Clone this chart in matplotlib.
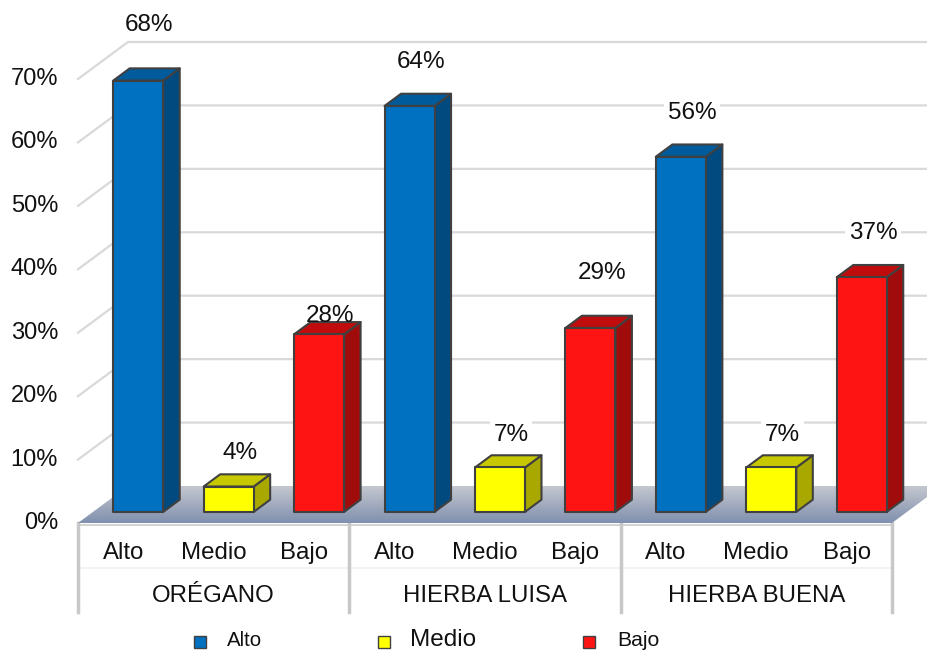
import numpy as np
import matplotlib.pyplot as plt
from matplotlib.patches import Polygon, Rectangle
from matplotlib.colors import LinearSegmentedColormap

plt.rcParams['font.family'] = ['Liberation Sans', 'DejaVu Sans']

# datos
grupos = ['ORÉGANO', 'HIERBA LUISA', 'HIERBA BUENA']
niveles = ['Alto', 'Medio', 'Bajo']
alto = [68, 64, 56]
medio = [4, 7, 7]
bajo = [28, 29, 37]
yticks = [0, 10, 20, 30, 40, 50, 60, 70]

# colores de cada cara (frente, lado, tapa)
caras = {
    'Alto': ('#0070c0', '#004a80', '#005b9c'),
    'Medio': ('#ffff00', '#a8a800', '#c8c800'),
    'Bajo': ('#ff1414', '#a00c0c', '#c00c0c'),
}
# ajuste vertical de las etiquetas de valor, por barra
ajuste_etq = [10.5, 7.0, 4.6, 8.7, 6.9, 10.4, 8.6, 6.9, 8.7]

# geometria en pixeles de la figura
W, H = 928, 652
x0px, slot_px = 78, 90.44
y0px, pct_px = 523, 6.343
dx, dy = 50 / slot_px, 37 / pct_px     # profundidad total
z0, dz = 0.30, 0.33                      # posicion y fondo de las barras
ancho = 50 / slot_px
fs = 17.3

fig = plt.figure(figsize=(W / 100, H / 100), dpi=100)
ax = fig.add_axes([0, 0, 1, 1])
ax.axis('off')
xlim = (-x0px / slot_px, (W - x0px) / slot_px)
ylim = ((y0px - H) / pct_px, y0px / pct_px)
xmax = xlim[1]

# paredes: lineas de cuadricula lateral y de fondo
for v in yticks[1:]:
    ax.plot([0, dx, xmax], [v, v + dy, v + dy], color='#d9d9d9', lw=1.6, zorder=1)
for v in yticks:
    ax.text(-0.22, v, f'{v}%', ha='right', va='center', fontsize=17, color='#111111')

# piso con degradado
n = len(grupos) * len(niveles)
piso = Polygon([(0, 0), (n, 0), (n + dx, dy), (dx, dy)], closed=True,
               facecolor='none', edgecolor='none')
ax.add_patch(piso)
grad = np.linspace(0, 1, 64).reshape(-1, 1)
cmap = LinearSegmentedColormap.from_list('piso', ['#8090ae', '#c4c7cf'])
img = ax.imshow(grad, extent=(0, n + dx, 0, dy), origin='lower', cmap=cmap,
                aspect='auto', zorder=1.5)
img.set_clip_path(piso)
ax.set_xlim(*xlim)
ax.set_ylim(*ylim)

# barras 3D
valores = []
for g in range(len(grupos)):
    valores += [alto[g], medio[g], bajo[g]]
ddx, ddy = dz * dx, dz * dy
for i, v in enumerate(valores):
    nivel = niveles[i % 3]
    cf, cl, ct = caras[nivel]
    xl = i + 0.5 - ancho / 2 + z0 * dx
    xr = xl + ancho
    yb = z0 * dy
    yt = v + z0 * dy
    kw = dict(closed=True, edgecolor='#404040', lw=1.5, zorder=3, joinstyle='round')
    ax.add_patch(Polygon([(xr, yb), (xr + ddx, yb + ddy), (xr + ddx, yt + ddy), (xr, yt)],
                         facecolor=cl, **kw))
    ax.add_patch(Polygon([(xl, yt), (xr, yt), (xr + ddx, yt + ddy), (xl + ddx, yt + ddy)],
                         facecolor=ct, **kw))
    ax.add_patch(Polygon([(xl, yb), (xr, yb), (xr, yt), (xl, yt)], facecolor=cf, **kw))

    # etiqueta de valor: fondo blanco detras de las barras, texto encima
    tx, ty = i + 0.79, v + ajuste_etq[i]
    ax.text(tx, ty, f'{v}%', ha='center', va='center', fontsize=17.5, color='white',
            bbox=dict(boxstyle='square,pad=0.15', fc='white', ec='none'), zorder=2)
    ax.text(tx, ty, f'{v}%', ha='center', va='center', fontsize=17.5, color='#111111',
            zorder=10)

# tabla de categorias bajo el piso
ax.plot([0, n], [-0.3, -0.3], color='#d4d4d4', lw=1.5, zorder=1)
ax.plot([0, n], [-7.1, -7.1], color='#f0f0f0', lw=1.2, zorder=1)
for k in range(len(grupos) + 1):
    ax.plot([3 * k, 3 * k], [0, -14.0], color='#c8c8c8', lw=2.5, zorder=1)
for i in range(n):
    ax.text(i + 0.5, -4.73, niveles[i % 3], ha='center', va='center',
            fontsize=fs, color='#111111')
for g, nombre in enumerate(grupos):
    ax.text(3 * g + 1.5, -11.5, nombre, ha='center', va='center',
            fontsize=fs, color='#111111')

# leyenda
ley_marca = [200, 384, 589]
ley_texto = [227, 410, 617]
ley_tam = [14.8, 17.5, 15.2]
for k, nivel in enumerate(niveles):
    cx, cy = ley_marca[k] / W, 1 - 642 / H
    s = 12
    fig.patches.append(Rectangle((cx - s / 2 / W, cy - s / 2 / H), s / W, s / H,
                                 transform=fig.transFigure, facecolor=caras[nivel][0],
                                 edgecolor='#404040', lw=1.0))
    fig.text(ley_texto[k] / W, 1 - 640 / H, nivel, ha='left', va='center',
             fontsize=ley_tam[k], color='#111111')

fig.savefig('out.png', dpi=100)
